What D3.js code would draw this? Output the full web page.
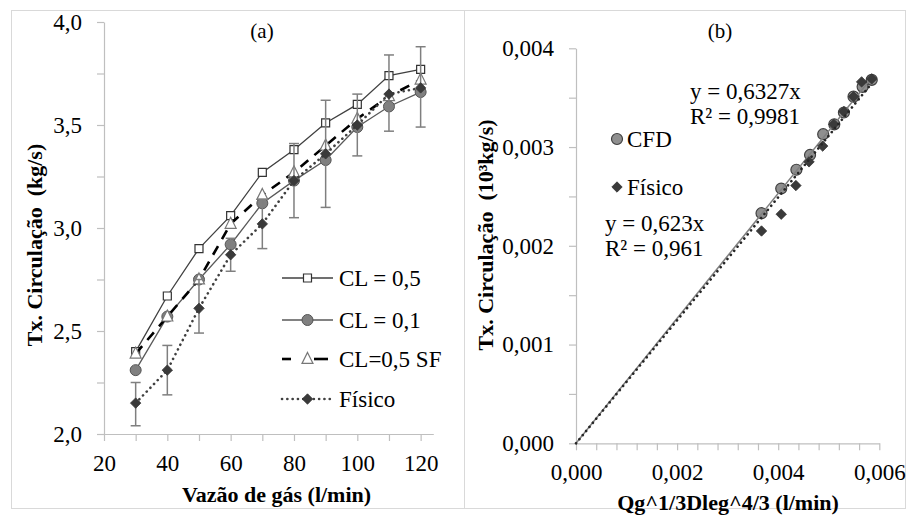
<!DOCTYPE html>
<html><head><meta charset="utf-8">
<script src="https://cdn.jsdelivr.net/npm/d3@7"></script>
<style>
body{margin:0;background:#fff;}
text{font-family:"Liberation Serif","Times New Roman",serif;}
</style></head><body>
<svg id="c" width="908" height="518" xmlns="http://www.w3.org/2000/svg"></svg>
<script>
// ---------- DATA: chart (a) ----------
const flowRates   = [30, 40, 50, 60, 70, 80, 90, 100, 110, 120];
const cl05        = [2.40, 2.67, 2.90, 3.06, 3.27, 3.38, 3.51, 3.60, 3.74, 3.77];
const cl01        = [2.31, 2.57, 2.75, 2.92, 3.12, 3.23, 3.33, 3.49, 3.59, 3.66];
const cl05sf      = [2.39, 2.57, 2.75, 3.02, 3.16, 3.27, 3.40, 3.53, 3.64, 3.72];
const fisicoA     = [2.15, 2.31, 2.61, 2.87, 3.02, 3.23, 3.36, 3.50, 3.65, 3.68];
const fisicoLow   = [2.04, 2.19, 2.49, 2.79, 2.90, 3.05, 3.10, 3.35, 3.47, 3.49];
const fisicoHigh  = [2.25, 2.43, 2.75, 2.95, 3.14, 3.41, 3.62, 3.65, 3.84, 3.88];
const seriesNamesA = ["CL = 0,5", "CL = 0,1", "CL=0,5 SF", "Físico"];
const xTicksA = [20, 30, 40, 50, 60, 70, 80, 90, 100, 110, 120];
const xLabelsA = [20, 40, 60, 80, 100, 120];
const yTicksA = [2.0, 2.25, 2.5, 2.75, 3.0, 3.25, 3.5, 3.75, 4.0];
const yLabelsA = [2.0, 2.5, 3.0, 3.5, 4.0];

// ---------- DATA: chart (b) ----------
const cfdX    = [0.00367, 0.00406, 0.00436, 0.00463, 0.00489, 0.00511, 0.00530, 0.00549, 0.00567, 0.00585];
const cfdY    = [0.00233, 0.00258, 0.00277, 0.00292, 0.00313, 0.00323, 0.00335, 0.00351, 0.00361, 0.00368];
const fisicoX = [0.00367, 0.00406, 0.00435, 0.00461, 0.00488, 0.00510, 0.00530, 0.00549, 0.00565, 0.00585];
const fisicoY = [0.00215, 0.00232, 0.00261, 0.00285, 0.00301, 0.00323, 0.00336, 0.00351, 0.00366, 0.00369];
const slopeCFD = 0.6327, r2CFD = "0,9981";
const slopeFisico = 0.623, r2Fisico = "0,961";
const seriesNamesB = ["CFD", "Físico"];
const xTicksB = d3.range(0, 16).map(i => i * 0.0004);
const xLabelsB = [0, 0.002, 0.004, 0.006];
const yTicksB = d3.range(0, 9).map(i => i * 0.0005);
const yLabelsB = [0, 0.001, 0.002, 0.003, 0.004];

const loc = d3.formatLocale({decimal: ",", thousands: ".", grouping: [3], currency: ["", ""]});
const f1 = loc.format(".1f"), f3 = loc.format(".3f");
const near = (v, arr) => arr.some(a => Math.abs(a - v) < 1e-9);

const svg = d3.select("#c");
const AX = "#bfbfbf", FS = 23;

// panel borders
svg.append("rect").attr("x", 11.5).attr("y", 10.5).attr("width", 453).attr("height", 498)
  .attr("fill", "none").attr("stroke", "#d9d9d9");
svg.append("rect").attr("x", 464.5).attr("y", 10.5).attr("width", 441).attr("height", 498)
  .attr("fill", "none").attr("stroke", "#d9d9d9");

function styleAxis(g) {
  g.select(".domain").attr("stroke", AX).attr("stroke-width", 1.2);
  g.selectAll(".tick line").attr("stroke", AX).attr("stroke-width", 1.2);
  g.selectAll(".tick text").attr("fill", "#000").attr("font-size", FS)
   .attr("font-family", "Liberation Serif, Times New Roman, serif");
}

// symbols
const sq = s => `M${-s/2},${-s/2}h${s}v${s}h${-s}Z`;
const tri = s => `M0,${-s*0.6}L${s/2},${s*0.4}L${-s/2},${s*0.4}Z`;
const dia = r => `M0,${-r}L${r},0L0,${r}L${-r},0Z`;

// ================= CHART (a) =================
const xA = d3.scaleLinear().domain([20, 124]).range([104, 433.3]);
const yA = d3.scaleLinear().domain([2, 4]).range([434, 22]);

svg.append("g").attr("transform", "translate(0,434)")
  .call(d3.axisBottom(xA).tickValues(xTicksA).tickSize(7).tickPadding(14).tickSizeOuter(0)
    .tickFormat(d => near(d, xLabelsA) ? d : ""))
  .call(styleAxis);
svg.append("g").attr("transform", "translate(104,0)")
  .call(d3.axisLeft(yA).tickValues(yTicksA).tickSize(7).tickPadding(15).tickSizeOuter(0)
    .tickFormat(d => near(d, yLabelsA) ? f1(d) : ""))
  .call(styleAxis);

const ptsA = arr => arr.map((v, i) => [xA(flowRates[i]), yA(v)]);
const line = d3.line();

const styles = [
  {data: cl05,   stroke: "#404040", w: 1.3, dash: null, cap: "butt", mk: "sq"},
  {data: cl01,   stroke: "#595959", w: 1.3, dash: null, cap: "butt", mk: "ci"},
  {data: cl05sf, stroke: "#000000", w: 2.6, dash: "10,8", cap: "butt", mk: "tr"},
  {data: fisicoA,stroke: "#404040", w: 2.6, dash: "0.1,5.2", cap: "round", mk: "di"}
];

function marker(g, kind, x, y) {
  if (kind === "sq") g.append("path").attr("d", sq(8)).attr("transform", `translate(${x},${y})`)
      .attr("fill", "#fff").attr("stroke", "#333").attr("stroke-width", 1.2);
  else if (kind === "ci") g.append("circle").attr("cx", x).attr("cy", y).attr("r", 5.5)
      .attr("fill", "#808080").attr("stroke", "#555").attr("stroke-width", 1);
  else if (kind === "tr") g.append("path").attr("d", tri(11)).attr("transform", `translate(${x},${y})`)
      .attr("fill", "#fff").attr("stroke", "#777").attr("stroke-width", 1.2);
  else if (kind === "di") g.append("path").attr("d", dia(5.2)).attr("transform", `translate(${x},${y})`)
      .attr("fill", "#3a3a3a").attr("stroke", "#333").attr("stroke-width", 0.8);
  else if (kind === "ciB") g.append("circle").attr("cx", x).attr("cy", y).attr("r", 5.5)
      .attr("fill", "#8f8f8f").attr("stroke", "#404040").attr("stroke-width", 1.2);
}

styles.forEach((s, si) => {
  const g = svg.append("g");
  g.append("path").attr("d", line(ptsA(s.data))).attr("fill", "none")
    .attr("stroke", s.stroke).attr("stroke-width", s.w)
    .attr("stroke-dasharray", s.dash).attr("stroke-linecap", s.cap);
  if (si === 3) {
    flowRates.forEach((q, i) => {
      const x = xA(q), y1 = yA(fisicoLow[i]), y2 = yA(fisicoHigh[i]);
      g.append("line").attr("x1", x).attr("x2", x).attr("y1", y1).attr("y2", y2)
        .attr("stroke", "#7f7f7f").attr("stroke-width", 1.5);
      [y1, y2].forEach(yy => g.append("line").attr("x1", x - 5).attr("x2", x + 5)
        .attr("y1", yy).attr("y2", yy).attr("stroke", "#7f7f7f").attr("stroke-width", 1.5));
    });
  }
  ptsA(s.data).forEach(p => marker(g, s.mk, p[0], p[1]));
});

// legend (a)
const legY = [278, 320, 359, 399];
styles.forEach((s, i) => {
  const g = svg.append("g");
  if (s.dash === "10,8") {
    g.append("line").attr("x1", 282).attr("x2", 291).attr("y1", legY[i]).attr("y2", legY[i])
      .attr("stroke", s.stroke).attr("stroke-width", s.w);
    g.append("line").attr("x1", 314).attr("x2", 328).attr("y1", legY[i]).attr("y2", legY[i])
      .attr("stroke", s.stroke).attr("stroke-width", s.w);
  } else {
    g.append("line").attr("x1", 282).attr("x2", 333).attr("y1", legY[i]).attr("y2", legY[i])
      .attr("stroke", s.stroke).attr("stroke-width", s.w)
      .attr("stroke-dasharray", s.dash).attr("stroke-linecap", s.cap);
  }
  marker(g, s.mk, 307.5, legY[i]);
  g.append("text").attr("x", 339).attr("y", legY[i]).attr("dy", "0.35em")
    .attr("font-size", FS).text(seriesNamesA[i]);
});

svg.append("text").attr("x", 262).attr("y", 38).attr("text-anchor", "middle")
  .attr("font-size", 21).text("(a)");
svg.append("text").attr("x", 276.5).attr("y", 502).attr("text-anchor", "middle")
  .attr("font-size", 22).attr("font-weight", "bold").text("Vazão de gás (l/min)");
svg.append("text").attr("transform", "translate(42,245) rotate(-90)").attr("text-anchor", "middle")
  .attr("font-size", 22).attr("font-weight", "bold").style("white-space", "pre")
  .text("Tx. Circulação  (kg/s)");

// ================= CHART (b) =================
const xB = d3.scaleLinear().domain([0, 0.006]).range([576, 879.3]);
const yB = d3.scaleLinear().domain([0, 0.004]).range([443.3, 48.3]);

svg.append("g").attr("transform", "translate(0,443.3)")
  .call(d3.axisBottom(xB).tickValues(xTicksB).tickSize(7).tickPadding(13).tickSizeOuter(0)
    .tickFormat(d => near(d, xLabelsB) ? f3(d) : ""))
  .call(styleAxis);
svg.append("g").attr("transform", "translate(576,0)")
  .call(d3.axisLeft(yB).tickValues(yTicksB).tickSize(7).tickPadding(15).tickSizeOuter(0)
    .tickFormat(d => near(d, yLabelsB) ? f3(d) : ""))
  .call(styleAxis);

const gB = svg.append("g");
const xMaxB = d3.max(cfdX.concat(fisicoX));
// CFD series + trendline
cfdX.forEach((x, i) => marker(gB, "ciB", xB(x), yB(cfdY[i])));
gB.append("path").attr("d", line([[xB(0), yB(0)], [xB(xMaxB), yB(slopeCFD * xMaxB)]]))
  .attr("stroke", "#808080").attr("stroke-width", 1.5).attr("fill", "none");
// Físico series + trendline
fisicoX.forEach((x, i) => marker(gB, "di", xB(x), yB(fisicoY[i])));
gB.append("path").attr("d", line([[xB(0), yB(0)], [xB(xMaxB), yB(slopeFisico * xMaxB)]]))
  .attr("stroke", "#262626").attr("stroke-width", 2.6).attr("fill", "none")
  .attr("stroke-dasharray", "0.1,5.2").attr("stroke-linecap", "round");

// legend (b)
marker(svg, "ciB", 617, 139);
svg.append("text").attr("x", 627).attr("y", 139).attr("dy", "0.35em").attr("font-size", FS).text(seriesNamesB[0]);
marker(svg, "di", 617, 187);
svg.append("text").attr("x", 627).attr("y", 187).attr("dy", "0.35em").attr("font-size", FS).text(seriesNamesB[1]);

// trendline equations
const fmtSlope = v => String(v).replace(".", ",");
svg.append("text").attr("x", 690).attr("y", 99).attr("font-size", FS).text(`y = ${fmtSlope(slopeCFD)}x`);
svg.append("text").attr("x", 690).attr("y", 124).attr("font-size", FS).text(`R² = ${r2CFD}`);
svg.append("text").attr("x", 605).attr("y", 231).attr("font-size", FS).text(`y = ${fmtSlope(slopeFisico)}x`);
svg.append("text").attr("x", 605).attr("y", 256).attr("font-size", FS).text(`R² = ${r2Fisico}`);

svg.append("text").attr("x", 720).attr("y", 38).attr("text-anchor", "middle")
  .attr("font-size", 21).text("(b)");
svg.append("text").attr("x", 728).attr("y", 510).attr("text-anchor", "middle")
  .attr("font-size", 22).attr("font-weight", "bold").text("Qg^1/3Dleg^4/3 (l/min)");
svg.append("text").attr("transform", "translate(493,235) rotate(-90)").attr("text-anchor", "middle")
  .attr("font-size", 22).attr("font-weight", "bold").style("white-space", "pre")
  .text("Tx. Circulação  (10³kg/s)");
</script>
</body></html>
